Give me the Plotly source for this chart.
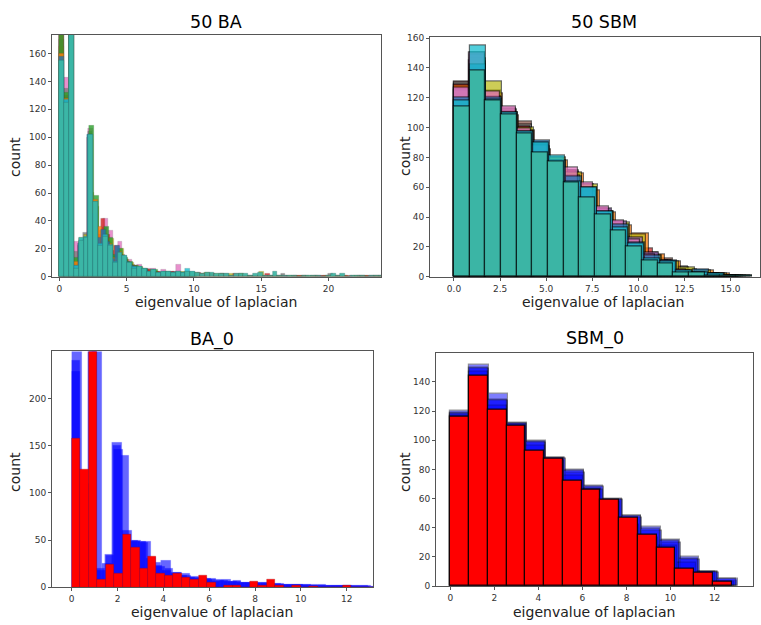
import plotly.graph_objects as go

# ---------------- data: histogram counts per bin ----------------
# 50 BA: overlaid spectra of 50 Barabasi-Albert graphs (bin width per sample)
ba50_front = [155, 125, 300, 6, 26, 28, 102, 54, 22, 29,
              22, 10, 17, 15, 10, 6, 7, 6, 4, 5,
              3, 4, 4, 3, 4, 3, 4, 4, 3, 2,
              3, 3, 2, 2, 2, 1, 2, 2, 2, 1,
              2, 3, 1, 1, 4, 1, 1, 1, 1, 0,
              1, 1, 1, 1, 0, 1, 2, 1, 2, 0,
              1, 1, 1, 0, 1, 1, 1]
ba50_front_width = 0.36
ba50_pink = [200, 143, 300, 25, 27, 30, 106, 50, 30, 42, 33, 15, 25, 14, 12, 8, 9, 5, 6, 6, 4, 5, 4, 4, 9, 3, 4, 3]
ba50_gray = [170, 135, 290, 18, 24, 32, 104, 48, 28, 35, 25, 14, 18, 16, 11, 9, 7, 6, 5, 5, 4, 3, 3, 3, 4, 3, 3, 3,
             3, 2, 2, 3, 2, 1, 2, 2, 1, 1, 2, 1, 1, 1, 1, 1, 1, 1, 1, 2, 1, 1, 1, 1, 1, 0, 1, 1, 1, 2, 1, 1,
             1, 0, 1, 1, 1, 1, 1, 1, 1]
ba50_olive = [165, 128, 280, 12, 28, 30, 60, 50, 33, 30, 27, 12, 20, 12, 10, 8, 6, 5, 5, 4, 3, 4, 3, 3, 4, 4, 3, 3,
              2, 3, 2, 2, 2, 1, 2, 1, 2, 1, 1, 1, 4, 1, 1, 1, 1, 0, 1, 1, 1, 1, 1, 1, 0, 1, 1, 1, 1, 1, 0,
              1, 1, 1, 0, 1, 1, 0, 1]
ba50_red = [175, 130, 295, 10, 22, 26, 100, 52, 30, 42, 30, 19, 22, 16, 12, 9, 8, 6, 5, 5, 3, 4, 3, 3, 4, 3, 3, 2,
            3, 2, 3, 2, 2, 2, 1, 2, 1, 1, 2, 1, 1, 1, 1, 1, 1, 2, 1, 1, 1, 1, 0, 1, 1, 1, 0, 1, 1, 1, 1, 0,
            1, 1, 1, 1, 0, 1, 1, 1, 1, 1, 1]
ba50_green = [180, 132, 300, 14, 25, 28, 108, 58, 25, 36, 28, 16, 20, 14, 11, 8, 7, 6, 4, 5, 3, 4, 3, 3, 3, 3, 3, 2]
ba50_orange = [160, 128, 285, 11, 24, 27, 98, 55, 36, 30, 24, 14, 18, 13, 10, 7, 6, 5, 4, 4, 3, 3, 3, 3, 3, 2, 3, 2]
ba50_blue = [158, 126, 290, 8, 24, 27, 102, 45, 28, 34, 25, 13, 22, 15, 11, 8, 7, 6, 5, 4, 3, 3, 3, 3, 3, 3, 3, 2]
ba50_cyan = [155, 127, 300, 8, 28, 29, 102, 54, 24, 30, 23, 11, 17, 15, 10, 7, 7, 6, 4, 5, 3, 4, 4, 3, 4, 3, 6, 4]
ba50_back = [
    (ba50_pink, 0.36, "#e377c2"),
    (ba50_gray, 0.35, "#7f7f7f"),
    (ba50_olive, 0.37, "#bcbd22"),
    (ba50_red, 0.34, "#d62728"),
    (ba50_green, 0.365, "#2ca02c"),
    (ba50_orange, 0.355, "#ff7f0e"),
    (ba50_blue, 0.345, "#1f77b4"),
    (ba50_cyan, 0.36, "#17becf"),
]

# 50 SBM: overlaid spectra of 50 stochastic block model graphs
sbm50_front = [114, 138, 118, 109, 96, 83, 77, 63, 53, 42, 31, 20, 11, 9, 3, 3, 1, 1, 1]
sbm50_front_width = 0.85
sbm50_cyan = [118, 155, 119, 110, 97, 90, 81, 64, 60, 44, 33, 22, 12, 10, 4, 3, 2, 1]
sbm50_pink = [127, 150, 124, 114, 99, 88, 78, 73, 63, 47, 38, 25, 15, 11, 5, 3, 2, 1]
sbm50_olive = [125, 146, 131, 110, 100, 87, 80, 70, 62, 44, 36, 28, 14, 10, 6, 4, 2, 1]
sbm50_brown = [131, 148, 125, 112, 104, 90, 79, 70, 60, 45, 35, 27, 16, 12, 6, 3, 2, 1, 1]
sbm50_red = [129, 145, 122, 111, 101, 86, 77, 71, 56, 46, 33, 24, 19, 11, 5, 3, 2, 1]
sbm50_orange = [128, 144, 123, 108, 98, 85, 78, 69, 58, 43, 34, 29, 15, 10, 5, 4, 2, 1]
sbm50_purple = [126, 149, 121, 109, 98, 88, 77, 68, 57, 46, 37, 26, 16, 9, 4, 3, 1, 1]
sbm50_gray = [130, 150, 124, 113, 102, 89, 80, 71, 62, 45, 33, 24, 14, 11, 7, 3, 2, 1, 1]
sbm50_blue = [120, 142, 120, 110, 97, 91, 78, 67, 60, 44, 35, 23, 14, 11, 4, 5, 2, 1]
sbm50_back = [
    (sbm50_brown, 0.85, "#8c564b"),
    (sbm50_gray, 0.845, "#7f7f7f"),
    (sbm50_red, 0.83, "#d62728"),
    (sbm50_orange, 0.88, "#ff7f0e"),
    (sbm50_olive, 0.87, "#bcbd22"),
    (sbm50_purple, 0.855, "#9467bd"),
    (sbm50_pink, 0.84, "#e377c2"),
    (sbm50_blue, 0.865, "#1f77b4"),
    (sbm50_cyan, 0.86, "#17becf"),
]

# BA_0: one BA graph (red) against its generated samples (blue)
ba0_red = [158, 125, 300, 8, 24, 15, 56, 42, 20, 33, 14, 12, 14, 10, 8, 12, 5, 0,
           2, 2, 0, 6, 2, 8, 2, 0, 2, 0, 1, 0, 0, 0, 2, 0, 0, 0]
ba0_red_width = 0.37
ba0_blue_a = [229, 110, 300, 18, 34, 146, 56, 48, 47, 31, 22, 20, 16, 15, 11, 10, 9, 7,
              6, 7, 5, 5, 5, 4, 4, 3, 3, 3, 3, 3, 2, 2, 2, 2, 2, 1]
ba0_blue_b = [240, 95, 300, 20, 35, 150, 140, 50, 48, 30, 23, 18, 15, 12, 10, 9, 8, 6,
              7, 6, 5, 5, 4, 4, 3, 3, 3, 3, 2, 2, 2, 2, 2, 2, 1, 1]
ba0_blue_c = [262, 60, 300, 25, 153, 60, 50, 48, 26, 28, 16, 12, 10, 9, 8, 8, 6, 5,
              5, 5, 4, 3, 3, 3, 2, 2, 2, 2, 2, 2, 1]
ba0_blue = [
    (ba0_blue_c, 0.435),
    (ba0_blue_b, 0.36),
    (ba0_blue_a, 0.37),
]

# SBM_0: one SBM graph (red) against its generated samples (blue)
sbm0_red = [116, 144, 121, 110, 93, 87, 72, 66, 59, 47, 35, 26, 12, 9, 3]
sbm0_red_width = 0.852
sbm0_blue = [
    ([120, 152, 132, 112, 100, 88, 80, 69, 60, 48, 41, 32, 20, 10, 4], 0.868),
    ([119, 149, 127, 111, 98, 87, 78, 68, 59, 47, 38, 30, 18, 9, 5], 0.872),
    ([118, 147, 124, 111, 96, 88, 76, 67, 58, 42, 33, 28, 16, 10, 3], 0.858),
    ([117, 150, 128, 110, 99, 86, 79, 66, 59, 48, 39, 31, 19, 10, 5], 0.864),
]

# ---------------- axis ticks ----------------
ba50_xticks = [0, 5, 10, 15, 20]
sbm50_xticks = [0, 2.5, 5, 7.5, 10, 12.5, 15]
sbm50_xlabels = ["0.0", "2.5", "5.0", "7.5", "10.0", "12.5", "15.0"]
small_xticks = [0, 2, 4, 6, 8, 10, 12]
ba50_yticks = [0, 20, 40, 60, 80, 100, 120, 140, 160]
sbm50_yticks = [0, 20, 40, 60, 80, 100, 120, 140, 160]
ba0_yticks = [0, 50, 100, 150, 200]
sbm0_yticks = [0, 20, 40, 60, 80, 100, 120, 140]

panel_titles = ["50 BA", "50 SBM", "BA_0", "SBM_0"]
x_title = "eigenvalue of laplacian"
y_title = "count"

W, H = 761, 625


def px(x):
    return x / W


def py(y):
    return 1 - y / H


def hist_bars(counts, width, color, axis, opacity, line_color, line_width):
    centers = [width * (i + 0.5) for i in range(len(counts))]
    return go.Bar(
        x=centers, y=counts, width=width,
        marker=dict(color=color, line=dict(color=line_color, width=line_width)),
        opacity=opacity, xaxis="x" + axis, yaxis="y" + axis,
        showlegend=False, hoverinfo="skip",
    )


fig = go.Figure()

# panel 1: 50 BA
for counts, w, c in ba50_back:
    fig.add_trace(hist_bars(counts, w, c, "", 0.8, "rgba(60,60,60,0.35)", 0.5))
fig.add_trace(hist_bars(ba50_front, ba50_front_width, "rgb(62,182,164)", "", 0.93,
                        "rgba(40,110,100,0.6)", 0.6))

# panel 2: 50 SBM
for counts, w, c in sbm50_back:
    fig.add_trace(hist_bars(counts, w, c, "2", 0.75, "rgba(0,0,0,0.75)", 1.2))
fig.add_trace(hist_bars(sbm50_front, sbm50_front_width, "rgb(62,182,164)", "2", 0.95,
                        "rgba(0,0,0,0.7)", 1.2))

# panel 3: BA_0
for counts, w in ba0_blue:
    fig.add_trace(hist_bars(counts, w, "#0000ff", "3", 0.6, "rgba(0,0,255,0.3)", 0.5))
fig.add_trace(hist_bars(ba0_red, ba0_red_width, "#ff0000", "3", 1.0, "rgba(160,0,0,0.5)", 0.6))

# panel 4: SBM_0
for counts, w in sbm0_blue:
    fig.add_trace(hist_bars(counts, w, "#0000ff", "4", 0.5, "rgba(0,0,0,0.8)", 1.2))
fig.add_trace(hist_bars(sbm0_red, sbm0_red_width, "#ff0000", "4", 1.0, "rgba(0,0,0,0.85)", 1.2))

tick_font = dict(family="DejaVu Sans", size=9, color="#333333")
axis_common = dict(
    showline=True, mirror=True, linecolor="#555555", linewidth=1,
    ticks="outside", ticklen=3, tickwidth=1, tickcolor="#555555",
    showgrid=False, zeroline=False, tickfont=tick_font, fixedrange=True,
)

# plot-area boxes in pixels: (left, right, top, bottom)
boxes = {
    "": (52, 381, 32, 277.3),
    "2": (430, 760, 34, 277.3),
    "3": (52, 373, 353, 591.7),
    "4": (436, 752.7, 354.3, 590.7),
}
x_ranges = {"": [-0.55, 23.9], "2": [-1.3, 16.6], "3": [-0.86, 13.15], "4": [-0.65, 13.73]}
y_ranges = {"": [0, 173.5], "2": [0, 161], "3": [0, 250], "4": [0, 160]}
x_ticks = {"": (ba50_xticks, [str(v) for v in ba50_xticks]),
           "2": (sbm50_xticks, sbm50_xlabels),
           "3": (small_xticks, [str(v) for v in small_xticks]),
           "4": (small_xticks, [str(v) for v in small_xticks])}
y_ticks = {"": ba50_yticks, "2": sbm50_yticks, "3": ba0_yticks, "4": sbm0_yticks}

layout = dict(
    width=W, height=H, autosize=False,
    margin=dict(l=0, r=0, t=0, b=0),
    paper_bgcolor="white", plot_bgcolor="white",
    barmode="overlay", bargap=0,
    showlegend=False,
)
for k, (l, r, t, b) in boxes.items():
    xa = "xaxis" + k
    ya = "yaxis" + k
    layout[xa] = dict(axis_common, domain=[px(l), px(r)], range=x_ranges[k],
                      tickvals=x_ticks[k][0], ticktext=x_ticks[k][1],
                      anchor="y" + k)
    layout[ya] = dict(axis_common, domain=[py(b), py(t)], range=y_ranges[k],
                      tickvals=y_ticks[k], anchor="x" + k)
fig.update_layout(**layout)

# titles and axis labels
title_font = dict(family="DejaVu Sans", size=17.5, color="black")
label_font = dict(family="DejaVu Sans", size=14, color="#222222")
title_pos = [(216, 19), (604, 19), (212, 341), (595, 340)]
xlabel_pos = [(216, 303), (603, 303), (212, 616.5), (594, 616.5)]
ylabel_pos = [(15, 156), (405, 155), (15, 475), (405, 475)]
ann = []
for text, (x, y) in zip(panel_titles, title_pos):
    ann.append(dict(text=text, x=px(x), y=py(y), xref="paper", yref="paper",
                    showarrow=False, font=title_font, xanchor="center", yanchor="middle"))
for x, y in xlabel_pos:
    ann.append(dict(text=x_title, x=px(x), y=py(y), xref="paper", yref="paper",
                    showarrow=False, font=label_font, xanchor="center", yanchor="middle"))
for x, y in ylabel_pos:
    ann.append(dict(text=y_title, x=px(x), y=py(y), xref="paper", yref="paper",
                    showarrow=False, font=label_font, textangle=-90,
                    xanchor="center", yanchor="middle"))
fig.update_layout(annotations=ann)

fig.write_html("out.html")
